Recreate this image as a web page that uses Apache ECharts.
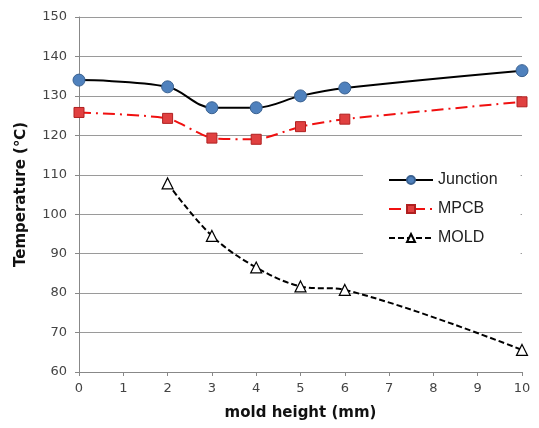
<!DOCTYPE html>
<html>
<head>
<meta charset="UTF-8">
<title>Temperature vs mold height</title>
<script src="https://cdn.jsdelivr.net/npm/echarts@6/dist/echarts.min.js"></script>
</head>
<body style="margin:0;background:#fff;">
<div id="chart" style="width:539px;height:428px;"></div>
<script>
// data
var heights = [0, 2, 3, 4, 5, 6, 10];
var junction = [134, 132.3, 127, 127, 130, 132, 136.4];
var mpcb = [125.8, 124.3, 119.3, 119, 122.2, 124.1, 128.5];
var moldHeights = [2, 3, 4, 5, 6, 10];
var mold = [107.8, 94.5, 86.5, 81.7, 80.8, 65.6];

function pairs(xs, ys) {
	return xs.map(function (x, i) { return [x, ys[i]]; });
}

var tickFont = 'DejaVu Sans';
var option = {
	animation: false,
	grid: { left: 79, right: 17, top: 17, bottom: 56 },
	legend: {
		orient: 'vertical',
		left: 363,
		top: 167,
		itemWidth: 44,
		itemHeight: 10,
		itemGap: 13,
		backgroundColor: '#fff',
		padding: [5, 23, 10, 25],
		textStyle: { fontFamily: 'Liberation Sans', fontSize: 16, color: '#222' },
		data: ['Junction', 'MPCB', 'MOLD']
	},
	xAxis: {
		type: 'value',
		min: 0, max: 10, interval: 1,
		name: 'mold height (mm)',
		nameLocation: 'middle',
		nameGap: 34,
		nameTextStyle: { fontFamily: tickFont, fontWeight: 'bold', fontSize: 15, color: '#111' },
		axisLine: { lineStyle: { color: '#888' } },
		axisTick: { show: true, length: 4, lineStyle: { color: '#888' } },
		axisLabel: { fontFamily: tickFont, fontSize: 13, color: '#444', margin: 10 },
		splitLine: { show: false }
	},
	yAxis: {
		type: 'value',
		min: 60, max: 150, interval: 10,
		name: 'Temperature (\u2103)',
		nameLocation: 'middle',
		nameGap: 50,
		nameTextStyle: { fontFamily: tickFont, fontWeight: 'bold', fontSize: 15, color: '#111' },
		axisLine: { show: true, lineStyle: { color: '#888' } },
		axisTick: { show: true, length: 4, lineStyle: { color: '#888' } },
		axisLabel: { fontFamily: tickFont, fontSize: 13, color: '#444', margin: 12 },
		splitLine: { lineStyle: { color: '#9a9a9a', width: 1 } }
	},
	series: [
		{
			name: 'Junction',
			type: 'line',
			smooth: 0.35,
			data: pairs(heights, junction),
			symbol: 'circle',
			symbolSize: 12,
			lineStyle: { color: '#000', width: 2 },
			itemStyle: { color: '#4F81BD', borderColor: '#3A6190', borderWidth: 1 },
			z: 3
		},
		{
			name: 'MPCB',
			type: 'line',
			smooth: 0.2,
			data: pairs(heights, mpcb),
			symbol: 'rect',
			symbolSize: 10,
			lineStyle: { color: '#F01010', width: 2, type: [12, 5, 2, 5] },
			itemStyle: { color: '#E04040', borderColor: '#B02020', borderWidth: 1 },
			z: 3
		},
		{
			name: 'MOLD',
			type: 'line',
			smooth: 0.35,
			data: pairs(moldHeights, mold),
			symbol: 'triangle',
			symbolSize: 11,
			lineStyle: { color: '#000', width: 2, type: [6, 3] },
			itemStyle: { color: '#fff', borderColor: '#000', borderWidth: 1.2 },
			z: 3
		}
	]
};

var chart = echarts.init(document.getElementById('chart'));
chart.setOption(option);
</script>
</body>
</html>
